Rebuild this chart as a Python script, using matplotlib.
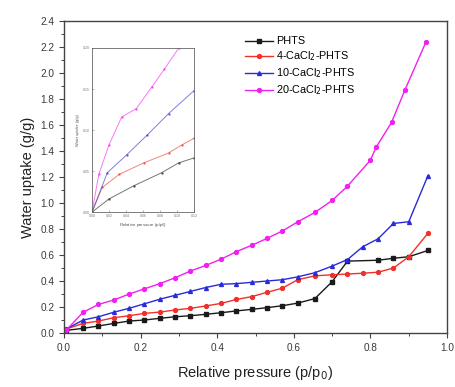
import matplotlib
matplotlib.use("Agg")
import matplotlib.pyplot as plt
from matplotlib.ticker import MultipleLocator

plt.rcParams['font.family'] = ['Liberation Sans', 'DejaVu Sans']

# Water vapour isotherms (relative pressure vs uptake, g/g)
x_phts = [0.005, 0.05, 0.09, 0.13, 0.17, 0.21, 0.25, 0.29, 0.33, 0.37, 0.41, 0.45,
          0.49, 0.53, 0.57, 0.61, 0.655, 0.70, 0.74, 0.82, 0.86, 0.90, 0.95]
y_phts = [0.02, 0.036, 0.054, 0.074, 0.092, 0.10, 0.113, 0.125, 0.133, 0.144, 0.156, 0.17,
          0.182, 0.195, 0.21, 0.23, 0.265, 0.395, 0.553, 0.56, 0.575, 0.587, 0.635]

x_4ca = [0.005, 0.05, 0.09, 0.13, 0.17, 0.21, 0.25, 0.29, 0.33, 0.37, 0.41, 0.45,
         0.49, 0.53, 0.57, 0.61, 0.655, 0.70, 0.74, 0.78, 0.82, 0.86, 0.90, 0.95]
y_4ca = [0.03, 0.074, 0.092, 0.118, 0.133, 0.151, 0.161, 0.177, 0.19, 0.208, 0.228, 0.258,
         0.28, 0.313, 0.345, 0.41, 0.44, 0.448, 0.454, 0.46, 0.468, 0.50, 0.587, 0.767]

x_10ca = [0.005, 0.05, 0.09, 0.13, 0.17, 0.21, 0.25, 0.29, 0.33, 0.37, 0.41, 0.45,
          0.49, 0.53, 0.57, 0.61, 0.655, 0.70, 0.74, 0.78, 0.82, 0.86, 0.90, 0.95]
y_10ca = [0.03, 0.10, 0.125, 0.16, 0.19, 0.225, 0.26, 0.29, 0.32, 0.35, 0.375, 0.38,
          0.39, 0.40, 0.41, 0.432, 0.464, 0.515, 0.565, 0.664, 0.725, 0.843, 0.856, 1.21]

x_20ca = [0.005, 0.05, 0.09, 0.13, 0.17, 0.21, 0.25, 0.29, 0.33, 0.37, 0.41, 0.45,
          0.49, 0.53, 0.57, 0.61, 0.655, 0.70, 0.74, 0.80, 0.815, 0.855, 0.89, 0.945]
y_20ca = [0.02, 0.16, 0.22, 0.254, 0.30, 0.34, 0.38, 0.425, 0.477, 0.52, 0.568, 0.626,
          0.675, 0.728, 0.785, 0.855, 0.928, 1.02, 1.13, 1.33, 1.43, 1.62, 1.87, 2.24]

# low-pressure detail for the inset
ix_phts = [0, 0.02, 0.049, 0.082, 0.102, 0.12]
iy_phts = [0, 0.016, 0.032, 0.048, 0.06, 0.066]
ix_4ca = [0, 0.012, 0.032, 0.061, 0.09, 0.106, 0.12]
iy_4ca = [0, 0.03, 0.046, 0.06, 0.072, 0.082, 0.09]
ix_10ca = [0, 0.018, 0.041, 0.065, 0.09, 0.12]
iy_10ca = [0, 0.048, 0.07, 0.094, 0.12, 0.148]
ix_20ca = [0, 0.008, 0.02, 0.035, 0.052, 0.07, 0.085, 0.102, 0.11]
iy_20ca = [0, 0.046, 0.082, 0.116, 0.126, 0.152, 0.174, 0.2, 0.215]

labels = ["PHTS", "4-CaCl$_2$-PHTS", "10-CaCl$_2$-PHTS", "20-CaCl$_2$-PHTS"]
colors = ["#1a1a1a", "#f0302a", "#2a2ad8", "#f020f0"]
markers = ["s", "o", "^", "o"]

fig = plt.figure(figsize=(4.56, 3.87), dpi=100)
ax = fig.add_axes([0.1404, 0.1395, 0.840, 0.806])

series = [(x_phts, y_phts), (x_4ca, y_4ca), (x_10ca, y_10ca), (x_20ca, y_20ca)]
for (xs, ys), lab, c, m in zip(series, labels, colors, markers):
    ax.plot(xs, ys, color=c, marker=m, markersize=2.8, lw=1.0, label=lab)

ax.set_xlim(0, 1.0)
ax.set_ylim(0, 2.4)
ax.xaxis.set_major_locator(MultipleLocator(0.2))
ax.xaxis.set_minor_locator(MultipleLocator(0.1))
ax.yaxis.set_major_locator(MultipleLocator(0.2))
ax.yaxis.set_minor_locator(MultipleLocator(0.1))
ax.tick_params(which='major', direction='out', length=3.5, width=0.8, labelsize=7.2,
               colors='#444444', labelcolor='#3a3a3a')
ax.tick_params(which='minor', direction='out', length=2, width=0.7, colors='#444444')
ax.set_xticks([0.0, 0.2, 0.4, 0.6, 0.8, 1.0])
ax.set_xticklabels(["0.0", "0.2", "0.4", "0.6", "0.8", "1.0"])
for sp in ax.spines.values():
    sp.set_linewidth(1.0)
    sp.set_color('#444444')

ax.set_xlabel("Relative pressure (p/p$_0$)", fontsize=10.5, color='#222222', labelpad=8)
ax.set_ylabel("Water uptake (g/g)", fontsize=10.5, color='#222222', labelpad=4)

ax.legend(loc='upper left', bbox_to_anchor=(0.46, 0.965), frameon=False, fontsize=7.8,
          handlelength=2.6, labelspacing=0.3, handletextpad=0.3, borderaxespad=0)

# inset: low pressure region
ins = fig.add_axes([0.2018, 0.452, 0.2237, 0.424])
inset_series = [(ix_phts, iy_phts), (ix_4ca, iy_4ca), (ix_10ca, iy_10ca), (ix_20ca, iy_20ca)]
for (xs, ys), c in zip(inset_series, colors):
    ins.plot(xs, ys, color=c, lw=0.7, alpha=0.6, marker='o', markersize=0.8)
ins.set_xlim(0, 0.12)
ins.set_ylim(0, 0.2)
ins.xaxis.set_major_locator(MultipleLocator(0.02))
ins.yaxis.set_major_locator(MultipleLocator(0.05))
ins.tick_params(direction='in', length=1.5, width=0.4, labelsize=2.5, pad=1.5,
                colors='#777777')
for sp in ins.spines.values():
    sp.set_linewidth(0.6)
    sp.set_color('#666666')
ins.set_xlabel("Relative pressure (p/p$_0$)", fontsize=3.2, labelpad=2, color='#555555')
ins.set_ylabel("Water uptake (g/g)", fontsize=2.8, labelpad=2, color='#555555')

fig.savefig("out.png", dpi=100)
